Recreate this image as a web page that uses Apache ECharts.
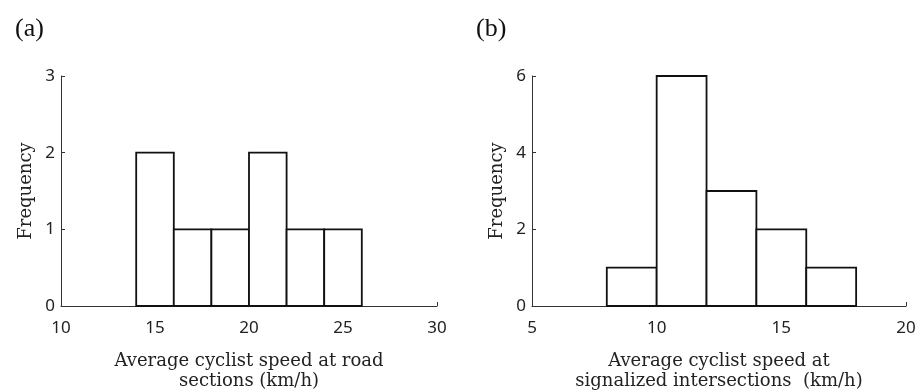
<!DOCTYPE html>
<html><head><meta charset="utf-8">
<script src="https://cdn.jsdelivr.net/npm/echarts@6/dist/echarts.min.js"></script>
<style>html,body{margin:0;padding:0;background:#fff}#c{width:921px;height:392px}</style>
</head><body><div id="c"></div>
<script>
// Panel (a): road sections
const binsA = [[14,16],[16,18],[18,20],[20,22],[22,24],[24,26]];
const countsA = [2,1,1,2,1,1];
// Panel (b): signalized intersections
const binsB = [[8,10],[10,12],[12,14],[14,16],[16,18]];
const countsB = [1,6,3,2,1];
const xTitleA = 'Average cyclist speed at road\nsections (km/h)';
const xTitleB = 'Average cyclist speed at\nsignalized intersections  (km/h)';
const yTitle = 'Frequency';

const chart = echarts.init(document.getElementById('c'));
const tickFont = {fontFamily:'Noto Sans', fontSize:17, color:'#222'};
const nameFont = {fontFamily:'DejaVu Serif', fontSize:18, color:'#222', lineHeight:20};
function mkData(bins, counts){ return bins.map((b,i)=>[b[0],b[1],counts[i]]); }
function renderItem(params, api){
  const p0 = api.coord([api.value(0), 0]);
  const p1 = api.coord([api.value(1), api.value(2)]);
  return {type:'rect', shape:{x:p0[0], y:p1[1], width:p1[0]-p0[0], height:p0[1]-p1[1]},
    style:{fill:'#fff', stroke:'#111', lineWidth:1.8}};
}
function xAxis(idx, min, max, name){
  return {type:'value', gridIndex:idx, min:min, max:max, interval:5,
    name:name, nameLocation:'middle', nameGap:45, nameTextStyle:nameFont,
    axisLine:{lineStyle:{color:'#333', width:1}},
    axisTick:{inside:true, length:4, lineStyle:{color:'#333'}},
    axisLabel:Object.assign({margin:14}, tickFont), splitLine:{show:false}};
}
function yAxis(idx, max, interval){
  return {type:'value', gridIndex:idx, min:0, max:max, interval:interval,
    name:yTitle, nameLocation:'middle', nameGap:25, nameTextStyle:nameFont,
    axisLine:{show:true, lineStyle:{color:'#333', width:1}},
    axisTick:{show:true, inside:true, length:4, lineStyle:{color:'#333'}},
    axisLabel:Object.assign({margin:6}, tickFont), splitLine:{show:false}};
}
chart.setOption({
  animation:false,
  title:[
    {text:'(a)', left:10, top:11, textStyle:{fontFamily:'Liberation Serif', fontSize:26, fontWeight:'normal', color:'#111'}},
    {text:'(b)', left:471, top:11, textStyle:{fontFamily:'Liberation Serif', fontSize:26, fontWeight:'normal', color:'#111'}}
  ],
  grid:[
    {left:61, right:484, top:76, bottom:86, outerBoundsMode:'none', containLabel:false},
    {left:532, right:15, top:76, bottom:86, outerBoundsMode:'none', containLabel:false}
  ],
  xAxis:[xAxis(0,10,30,xTitleA), xAxis(1,5,20,xTitleB)],
  yAxis:[yAxis(0,3,1), yAxis(1,6,2)],
  series:[
    {type:'custom', xAxisIndex:0, yAxisIndex:0, renderItem:renderItem, data:mkData(binsA,countsA), encode:{x:[0,1], y:2}},
    {type:'custom', xAxisIndex:1, yAxisIndex:1, renderItem:renderItem, data:mkData(binsB,countsB), encode:{x:[0,1], y:2}}
  ]
});
</script></body></html>
